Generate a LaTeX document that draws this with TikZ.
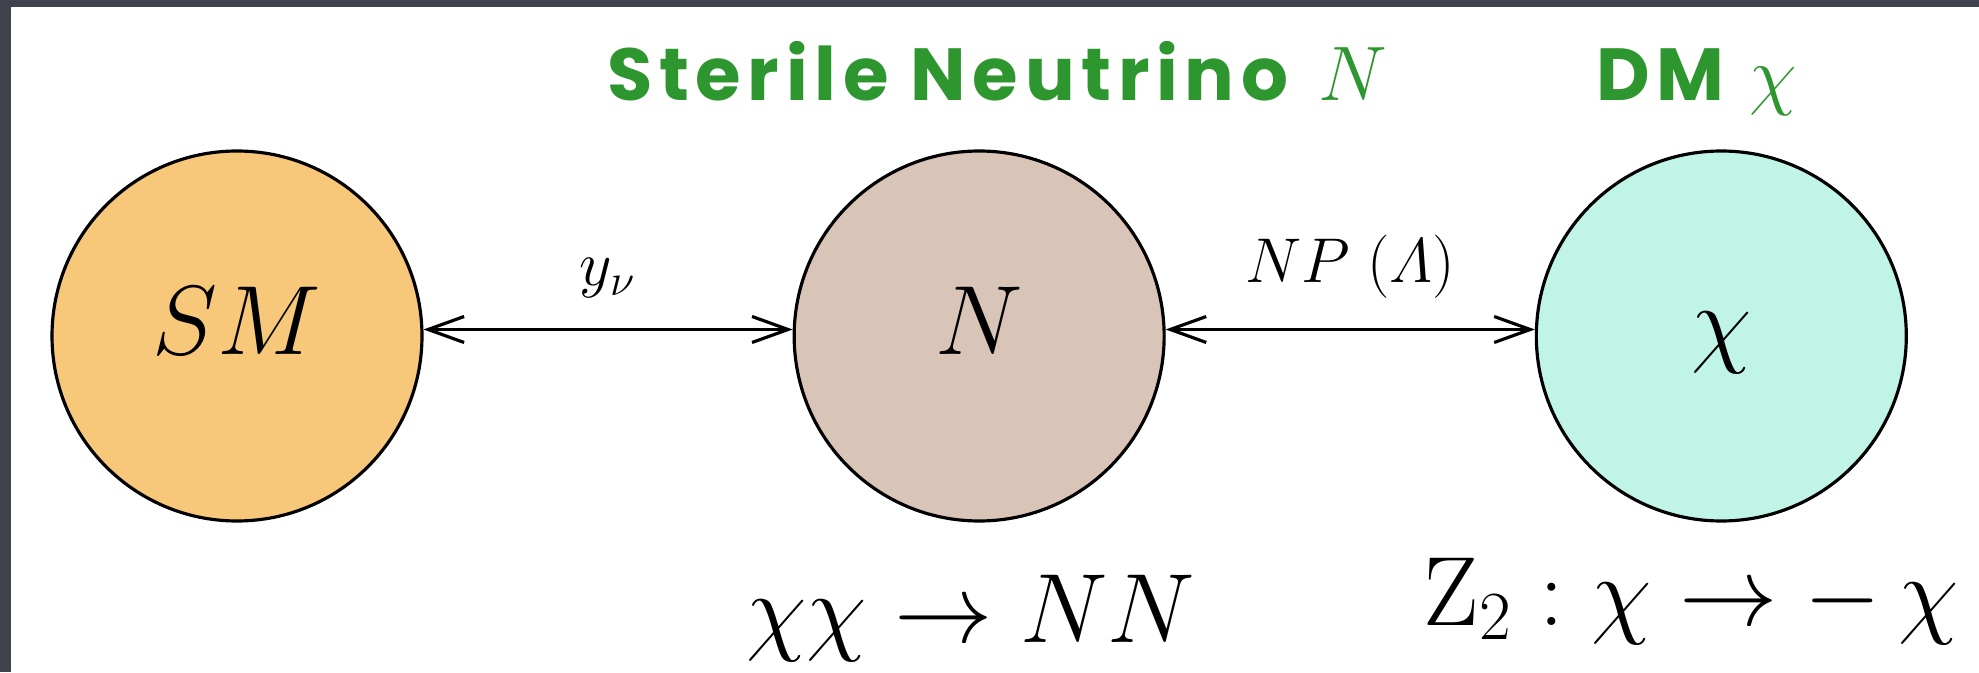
\RequirePackage{fix-cm}
\documentclass[tikz,border=0pt]{standalone}
\usepackage{amsmath}
\usepackage{fontspec}
\newfontfamily\handfont{Poppins}[LetterSpace=9]
\usetikzlibrary{
	arrows.meta,
	positioning
}
\definecolor{framegrey}{RGB}{64,66,78}
\definecolor{smfill}{RGB}{247,200,122}
\definecolor{nfill}{RGB}{216,197,183}
\definecolor{dmfill}{RGB}{191,244,230}
\definecolor{chalk}{RGB}{46,150,46}

\begin{document}
\begin{tikzpicture}[
			sector/.style={circle, draw, line width=0.9pt, minimum size=3.7cm, inner sep=0pt,
				font=\fontsize{28}{32}\selectfont, text height=19pt, text depth=8.5pt},
			link/.style={{Straight Barb[length=3.6mm, width=2.6mm]}-{Straight Barb[length=3.6mm, width=2.6mm]}, line width=0.9pt},
			coup/.style={font=\fontsize{18}{22}\selectfont, inner sep=0pt},
			hand/.style={font=\handfont\bfseries\fontsize{21}{24}\selectfont, text=chalk, anchor=base},
			big/.style={font=\fontsize{28}{34}\selectfont, anchor=base}
		]

		\useasboundingbox (0,0) rectangle (19.79,6.72);
		\fill[framegrey] (0,0) rectangle (0.11,6.72);
		\fill[framegrey] (0,6.65) rectangle (19.79,6.72);

		\node[sector, fill=smfill] (sm) at (2.37,3.36) {$SM$};
		\node[sector, fill=nfill, right=3.69cm of sm] (n) {$N$};
		\node[sector, fill=dmfill, right=3.69cm of n] (dm) {$\chi$};

		\node[hand] (tn) at (9.97,5.71) {Sterile Neutrino\hspace{0.3cm}\fontsize{22}{24}\selectfont$N$};
		\node[hand] (tdm) at (16.97,5.71) {DM\hspace{0.25cm}\fontsize{22}{24}\selectfont$\chi$};

		\draw[link] (sm.2) -- node[coup, above=0.3cm] {$y_\nu$} (n.178);
		\draw[link] (n.2) -- node[coup, above=0.3cm] {$NP\;(\varLambda)$} (dm.178);

		\node[big] (ann) at (9.71,0.30) {$\chi\chi\to NN$};
		\node[big] (z2) at (16.91,0.47) {$\mathrm{Z}_2 : \chi \to -\,\chi$};
	\end{tikzpicture}
\end{document}
